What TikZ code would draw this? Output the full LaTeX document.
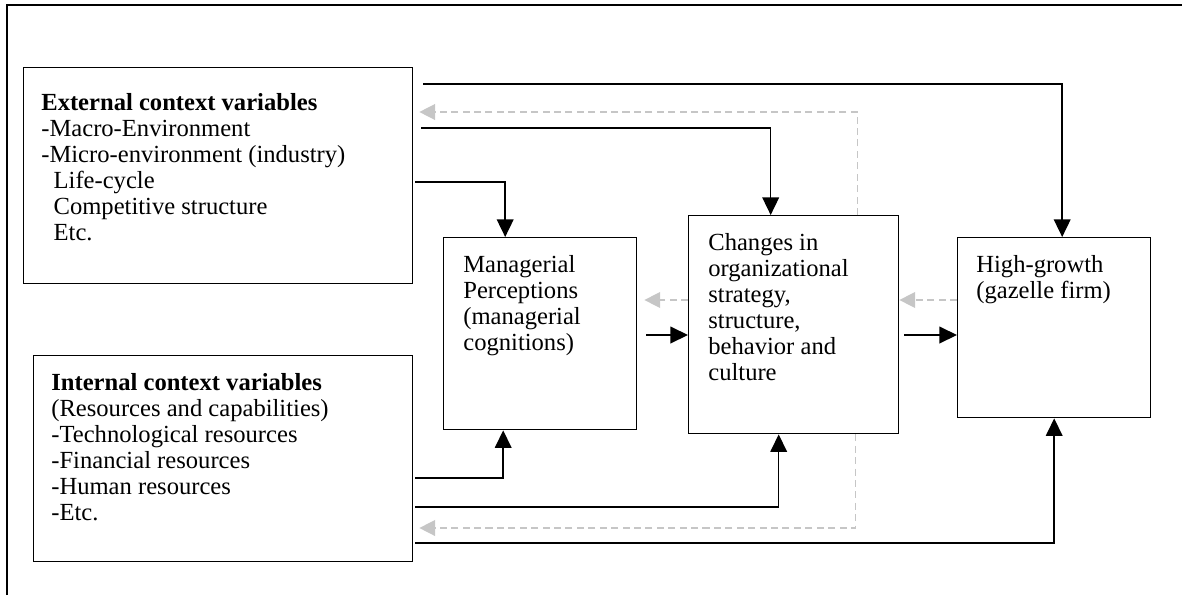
\documentclass[tikz,border=0pt]{standalone}
\usepackage{fontspec}
\setmainfont{Liberation Serif}
\usetikzlibrary{arrows.meta, calc}

\begin{document}
\begin{tikzpicture}[
    x=0.02cm, y=-0.02cm,
    box/.style={draw, line width=0.8pt, anchor=north west, inner sep=0pt},
    txt/.style={anchor=north west, inner sep=0pt, align=left, font=\fontsize{14}{14.8}\selectfont},
    arr/.style={line width=0.8pt, -{Triangle[width=9.5pt, length=10pt]}},
    back/.style={line width=0.8pt, gray!45, dash pattern=on 4pt off 2.5pt, -{Triangle[width=9pt, length=9pt]}}
]
  \useasboundingbox (0,0) rectangle (1182,595);
  \draw[line width=1.1pt] (7,595) -- (7,5) -- (1182,5);

  % --- BOXES ---
  \node[box, minimum width=7.78cm, minimum height=4.32cm] (ext) at (23,67) {};
  \node[box, minimum width=7.58cm, minimum height=4.12cm] (int) at (33,355) {};
  \node[box, minimum width=3.86cm, minimum height=3.84cm] (mgr) at (443,237) {};
  \node[box, minimum width=4.2cm, minimum height=4.36cm] (chg) at (688,215) {};
  \node[box, minimum width=3.86cm, minimum height=3.6cm] (high) at (957,237) {};

  % --- TEXTS ---
  \node[txt] (exttxt) at ($(ext.north west)+(18,26)$) {\textbf{External context variables}\\
    -Macro-Environment\\
    -Micro-environment (industry)\\
    \hspace*{0.5em}Life-cycle\\
    \hspace*{0.5em}Competitive structure\\
    \hspace*{0.5em}Etc.};
  \node[txt] (inttxt) at ($(int.north west)+(18,18)$) {\textbf{Internal context variables}\\
    (Resources and capabilities)\\
    -Technological resources\\
    -Financial resources\\
    -Human resources\\
    -Etc.};
  \node[txt] (mgrtxt) at ($(mgr.north west)+(20,18)$) {Managerial\\Perceptions\\(managerial\\cognitions)};
  \node[txt] (chgtxt) at ($(chg.north west)+(20,18)$) {Changes in\\organizational\\strategy,\\structure,\\behavior and\\culture};
  \node[txt] (hightxt) at ($(high.north west)+(19,18)$) {High-growth\\(gazelle firm)};

  % --- TOP CONNECTORS ---
  \coordinate (t1) at (423,84);
  \coordinate (t2) at (421,128);
  \coordinate (t3) at (415,182);
  \draw[arr] (t1) -| ($(high.north)+(8,0)$);
  \draw[back] ($(chg.north)+(64,0)$) |- ($(ext.east |- 0,112)+(6,0)$);
  \draw[arr] (t2) -| ($(chg.north)+(-23,0)$);
  \draw[arr] (t3) -| ($(mgr.north)+(-35,0)$);

  % --- MIDDLE CONNECTORS ---
  \draw[back] (chg.west |- 0,300) -- ($(mgr.east |- 0,300)+(7,0)$);
  \draw[back] (high.west |- 0,300) -- (chg.east |- 0,300);
  \draw[arr] ($(mgr.east |- 0,335)+(9,0)$) -- (chg.west |- 0,335);
  \draw[arr] ($(chg.east |- 0,335)+(5,0)$) -- (high.west |- 0,335);

  % --- BOTTOM CONNECTORS ---
  \coordinate (b1) at (415,478);
  \coordinate (b2) at (415,507);
  \coordinate (b3) at (415,543);
  \draw[arr] (b1) -| ($(mgr.south)+(-37,0)$);
  \draw[arr] (b2) -| ($(chg.south)+(-15,0)$);
  \draw[back] ($(chg.south)+(62,0)$) |- ($(int.east |- 0,528)+(6,0)$);
  \draw[arr] (b3) -| (high.south);
\end{tikzpicture}
\end{document}
